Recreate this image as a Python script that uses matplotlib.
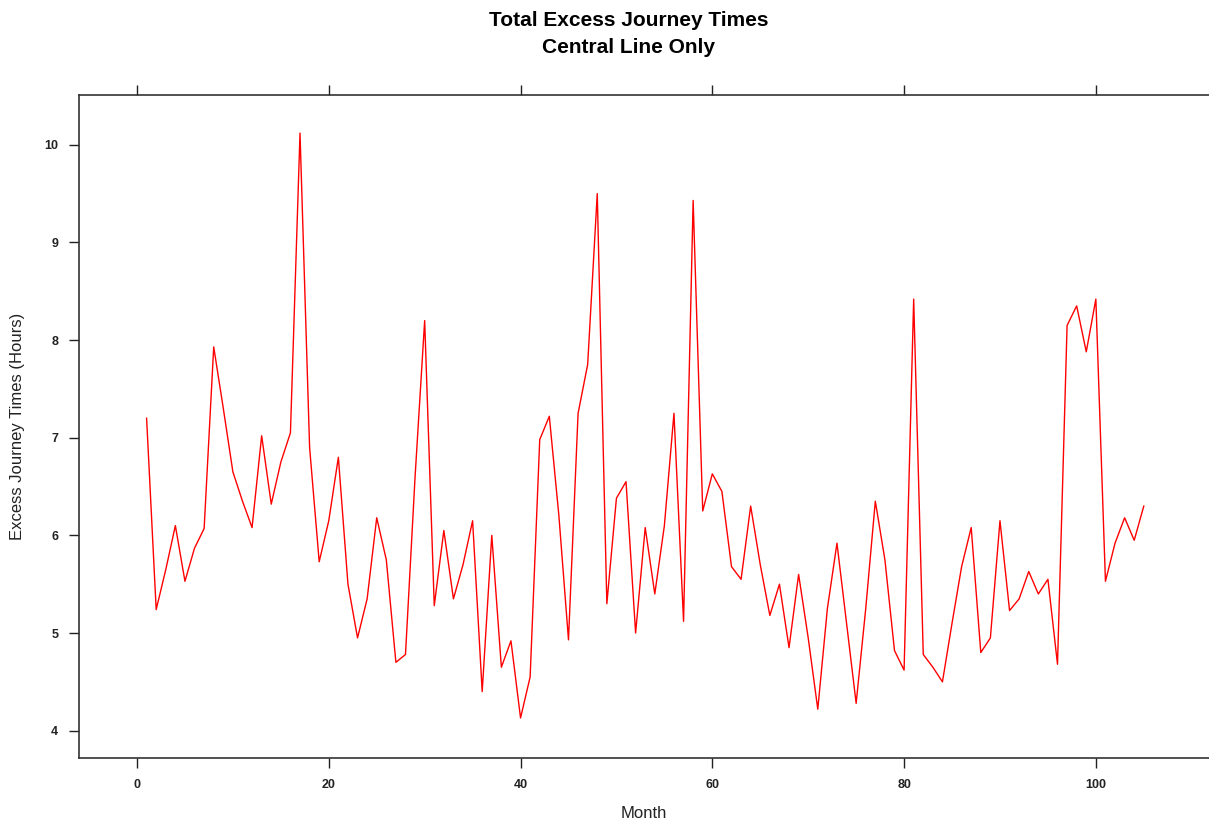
import numpy as np
import matplotlib
matplotlib.use("Agg")
import matplotlib.pyplot as plt

# ==========================================
# DATA - excess journey times, Central line
# ==========================================
months = np.arange(1, 106)
hours = [
    7.20, 5.24, 5.65, 6.10, 5.53, 5.87, 6.07, 7.93, 7.30, 6.65,
    6.35, 6.08, 7.02, 6.32, 6.75, 7.05, 10.12, 6.90, 5.73, 6.15,
    6.80, 5.50, 4.95, 5.35, 6.18, 5.75, 4.70, 4.78, 6.60, 8.20,
    5.28, 6.05, 5.35, 5.70, 6.15, 4.40, 6.00, 4.65, 4.92, 4.13,
    4.55, 6.98, 7.22, 6.20, 4.93, 7.25, 7.75, 9.50, 5.30, 6.38,
    6.55, 5.00, 6.08, 5.40, 6.10, 7.25, 5.12, 9.43, 6.25, 6.63,
    6.45, 5.68, 5.55, 6.30, 5.70, 5.18, 5.50, 4.85, 5.60, 4.95,
    4.22, 5.25, 5.92, 5.10, 4.28, 5.25, 6.35, 5.75, 4.82, 4.62,
    8.42, 4.78, 4.65, 4.50, 5.10, 5.68, 6.08, 4.80, 4.95, 6.15,
    5.23, 5.35, 5.63, 5.40, 5.55, 4.68, 8.15, 8.35, 7.88, 8.42,
    5.53, 5.92, 6.18, 5.95, 6.30,
]
xticks = [0, 20, 40, 60, 80, 100]
yticks = [4, 5, 6, 7, 8, 9, 10]

# ==========================================
# PLOT
# ==========================================
plt.rcParams['font.family'] = ['Liberation Sans', 'DejaVu Sans']

fig = plt.figure(figsize=(12.09, 8.24), dpi=100)
ax = fig.add_axes([79/1209, 66/824, 1 - 79/1209, (758 - 95)/824])

ax.plot(months, hours, color="red", linewidth=1.0)

ax.set_xlim(-6.05, 111.8)
ax.set_ylim(3.72, 10.51)
ax.set_xticks(xticks)
ax.set_yticks(yticks)

ax.tick_params(axis="x", direction="out", length=7, width=1, top=True,
               labeltop=False, labelsize=9, pad=8, colors="#222222")
ax.tick_params(axis="y", direction="out", length=7, width=1, right=False,
               labelsize=9, pad=8, colors="#222222")
for lab in ax.get_xticklabels() + ax.get_yticklabels():
    lab.set_fontweight("bold")

for s in ["left", "bottom", "top"]:
    ax.spines[s].set_linewidth(1.2)
    ax.spines[s].set_color("#333333")
ax.spines["right"].set_visible(False)

ax.set_xlabel("Month", fontsize=12, labelpad=11, color="#222222")
ax.set_ylabel("Excess Journey Times (Hours)", fontsize=12, labelpad=14, color="#222222")

fig.text(0.52, 0.987, "Total Excess Journey Times", ha="center", va="top",
         fontsize=15, fontweight="bold")
fig.text(0.52, 0.954, "Central Line Only", ha="center", va="top",
         fontsize=15, fontweight="bold")

fig.savefig("out.png", dpi=100)
